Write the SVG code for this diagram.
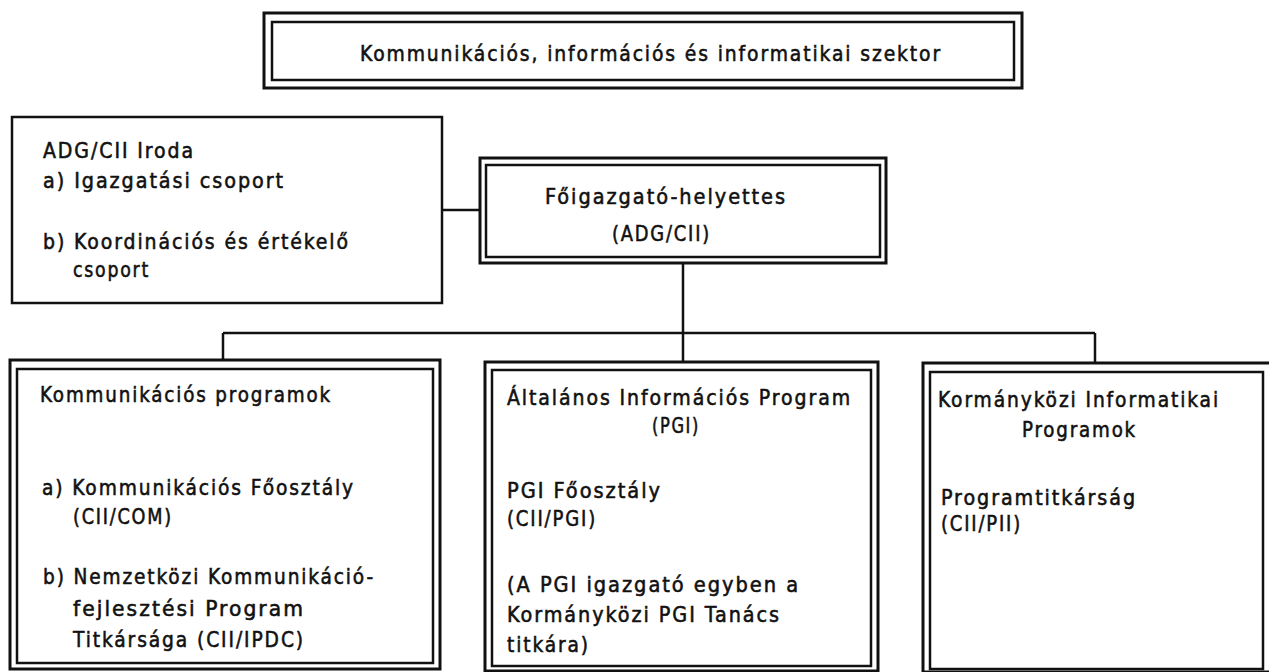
<svg xmlns="http://www.w3.org/2000/svg" width="1269" height="672" viewBox="0 0 1269 672">
<style>
.bg{fill:#fff}
.o{fill:none;stroke:#111;stroke-width:3}
.i{fill:none;stroke:#111;stroke-width:2.5}
.s{fill:none;stroke:#111;stroke-width:2.5}
.c{fill:none;stroke:#111;stroke-width:2.5}
text{font-family:"DejaVu Sans Condensed","DejaVu Sans","Liberation Sans",sans-serif;font-size:22px;letter-spacing:2px;fill:#111;stroke:#111;stroke-width:0.55}
</style>
<rect class="bg" x="0" y="0" width="1269" height="672"/>
<g id="connectors">
<line class="c" x1="442" y1="210" x2="480" y2="210"/>
<line class="c" x1="683" y1="263" x2="683" y2="333"/>
<line class="c" x1="223" y1="333" x2="1095" y2="333"/>
<line class="c" x1="223" y1="333" x2="223" y2="360"/>
<line class="c" x1="683" y1="333" x2="683" y2="362"/>
<line class="c" x1="1095" y1="333" x2="1095" y2="363"/>
</g>
<g id="sector">
<rect class="o" x="264" y="13" width="758" height="75"/>
<rect class="i" x="272" y="22" width="742" height="58"/>
<text x="360" y="61" textLength="582" lengthAdjust="spacingAndGlyphs">Kommunikációs, információs és informatikai szektor</text>
</g>
<g id="iroda">
<rect class="s" x="12" y="117" width="430" height="186"/>
<text x="43" y="158" textLength="152" lengthAdjust="spacingAndGlyphs">ADG/CII Iroda</text>
<text x="43" y="188" textLength="242" lengthAdjust="spacingAndGlyphs">a) Igazgatási csoport</text>
<text x="43" y="249" textLength="307" lengthAdjust="spacingAndGlyphs">b) Koordinációs és értékelő</text>
<text x="73" y="277" textLength="77" lengthAdjust="spacingAndGlyphs">csoport</text>
</g>
<g id="foigazgato">
<rect class="o" x="480" y="158" width="406" height="105"/>
<rect class="i" x="486" y="165" width="394" height="92"/>
<text x="545" y="204" textLength="242" lengthAdjust="spacingAndGlyphs">Főigazgató-helyettes</text>
<text x="612" y="241" textLength="99" lengthAdjust="spacingAndGlyphs">(ADG/CII)</text>
</g>
<g id="kommunikacios">
<rect class="o" x="10" y="360" width="430" height="309"/>
<rect class="i" x="17" y="369" width="416" height="294"/>
<text x="40" y="402" textLength="292" lengthAdjust="spacingAndGlyphs">Kommunikációs programok</text>
<text x="42" y="495" textLength="313" lengthAdjust="spacingAndGlyphs">a) Kommunikációs Főosztály</text>
<text x="73" y="524" textLength="100" lengthAdjust="spacingAndGlyphs">(CII/COM)</text>
<text x="43" y="584" textLength="332" lengthAdjust="spacingAndGlyphs">b) Nemzetközi Kommunikáció-</text>
<text x="73" y="616" textLength="232" lengthAdjust="spacingAndGlyphs">fejlesztési Program</text>
<text x="73" y="647" textLength="232" lengthAdjust="spacingAndGlyphs">Titkársága (CII/IPDC)</text>
</g>
<g id="pgi">
<rect class="o" x="485" y="362" width="393" height="309"/>
<rect class="i" x="492" y="370" width="379" height="296"/>
<text x="507" y="405" textLength="345" lengthAdjust="spacingAndGlyphs">Általános Információs Program</text>
<text x="652" y="433" textLength="48" lengthAdjust="spacingAndGlyphs">(PGI)</text>
<text x="507" y="498" textLength="155" lengthAdjust="spacingAndGlyphs">PGI Főosztály</text>
<text x="507" y="526" textLength="90" lengthAdjust="spacingAndGlyphs">(CII/PGI)</text>
<text x="507" y="592" textLength="293" lengthAdjust="spacingAndGlyphs">(A PGI igazgató egyben a</text>
<text x="507" y="622" textLength="274" lengthAdjust="spacingAndGlyphs">Kormányközi PGI Tanács</text>
<text x="507" y="652" textLength="83" lengthAdjust="spacingAndGlyphs">titkára)</text>
</g>
<g id="kormanykozi">
<rect class="o" x="923" y="363" width="348" height="309"/>
<rect class="i" x="930" y="372" width="333" height="297"/>
<text x="938" y="407" textLength="282" lengthAdjust="spacingAndGlyphs">Kormányközi Informatikai</text>
<text x="1022" y="437" textLength="115" lengthAdjust="spacingAndGlyphs">Programok</text>
<text x="941" y="505" textLength="196" lengthAdjust="spacingAndGlyphs">Programtitkárság</text>
<text x="941" y="531" textLength="81" lengthAdjust="spacingAndGlyphs">(CII/PII)</text>
</g>
</svg>
